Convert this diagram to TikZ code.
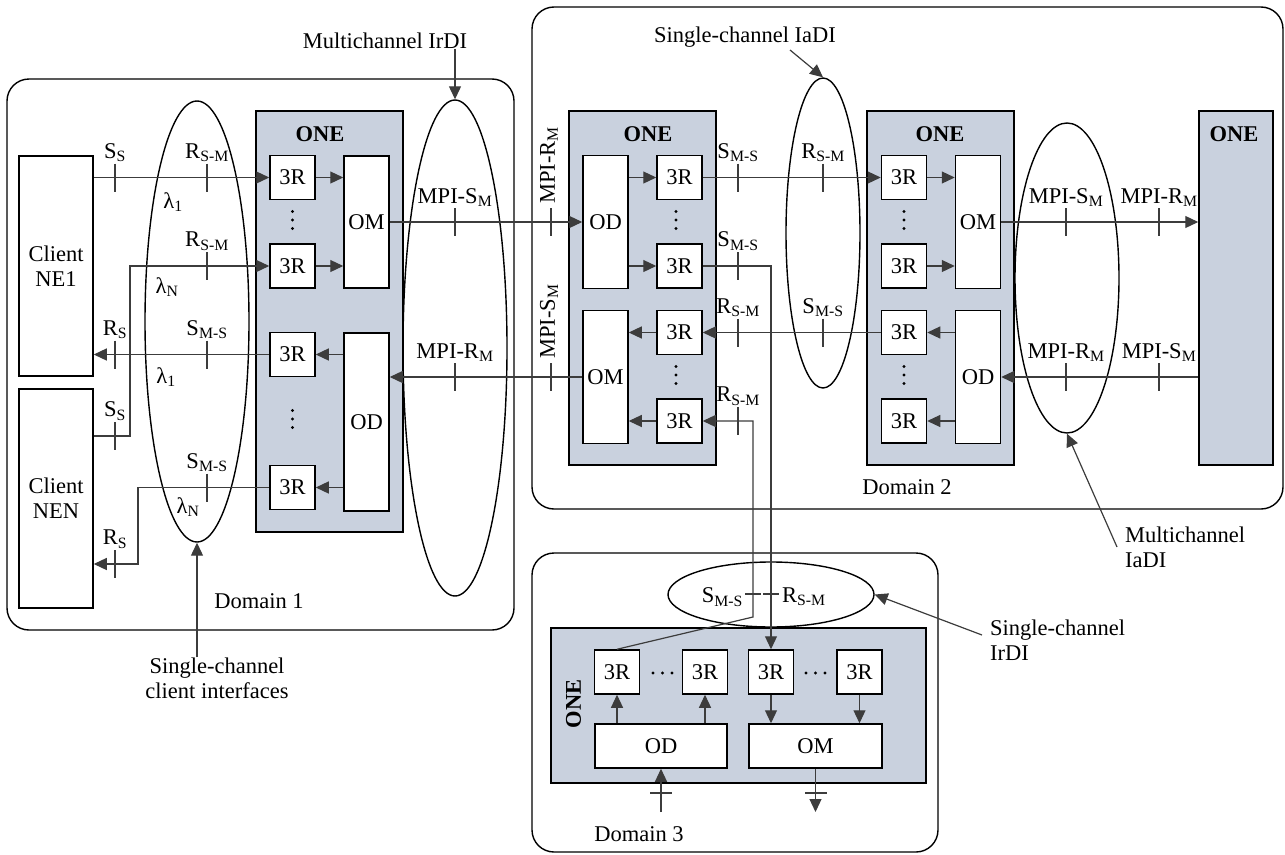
\documentclass[tikz,border=0pt]{standalone}
\usepackage{fontspec}
\setmainfont{Liberation Serif}
\usetikzlibrary{arrows.meta,shapes.geometric}

\definecolor{onefill}{RGB}{201,209,222}
\definecolor{wirecol}{RGB}{60,60,60}

\tikzset{
  onebox/.style={draw, fill=onefill, line width=1.5pt, inner sep=0pt},
  onelabel/.style={inner sep=0pt, font=\fontsize{22.5}{25}\selectfont\bfseries},
  blk/.style={draw, fill=white, line width=1.5pt, inner sep=0pt,
    minimum width=45pt, minimum height=44pt},
  tallblk/.style={blk, minimum height=133pt},
  wideblk/.style={blk, minimum width=133pt},
  domainbox/.style={draw, line width=1.4pt, rounded corners=22pt},
  iface/.style={draw, ellipse, line width=1.4pt, inner sep=0pt},
  wire/.style={draw=wirecol, line width=1.2pt},
  arr/.style={wire, -{Triangle[length=13pt,width=12pt]}},
  txt/.style={inner sep=0pt},
  reflabel/.style={inner sep=1.5pt, anchor=south},
}

% tick across a horizontal wire, its reference point name above
\newcommand{\refpoint}[4]{%
  \draw[wire] (#2,#3) ++(0,-14) -- ++(0,28);
  \node[reflabel] (#1) at (#2,{#3-14}) {#4};
}
% three dots in a column
\newcommand{\vdotsat}[2]{%
  \foreach \d in {-8.5,0,8.5} \fill (#1,{#2+\d}) circle (1.7pt);
}

\begin{document}
\begin{tikzpicture}[x=1pt, y=-1pt, font=\fontsize{22.5}{25}\selectfont]
\useasboundingbox (0,0) rectangle (1285,854);

% the three domains
\draw[domainbox] (7,79) rectangle (514,630);
\draw[domainbox] (532,7) rectangle (1283,509);
\draw[domainbox] (532,553) rectangle (938,852);

% client NEs
\node[blk, minimum width=74pt, minimum height=220pt, align=center] (ne1) at (56,266) {Client\\NE1};
\node[blk, minimum width=74pt, minimum height=219pt, align=center] (nen) at (56,498.5) {Client\\NEN};

% ONE boxes
\node[onebox, minimum width=147pt, minimum height=421pt] (one1) at (329.5,321.5) {};
\node[onebox, minimum width=147pt, minimum height=354pt] (one2) at (642.5,288) {};
\node[onebox, minimum width=147pt, minimum height=354pt] (one3) at (940.5,288) {};
\node[onebox, minimum width=74pt, minimum height=354pt] (one4) at (1236,288) {};
\node[onebox, minimum width=375pt, minimum height=155pt] (one5) at (738.5,705.5) {};
\node[onelabel] (n1) at (320,134.5) {ONE};
\node[onelabel] (n2) at (648,134.5) {ONE};
\node[onelabel] (n3) at (940,134.5) {ONE};
\node[onelabel] (n4) at (1234,134.5) {ONE};
\node[onelabel, rotate=90] (n5) at (573.5,704) {ONE};

% interfaces
\node[iface, minimum width=104pt, minimum height=441pt] (cli) at (197,321.5) {};
\node[iface, minimum width=104pt, minimum height=496pt] (irdi) at (455,348) {};
\node[iface, minimum width=74pt, minimum height=310pt] (iadi) at (823,233) {};
\node[iface, minimum width=104pt, minimum height=310pt] (miadi) at (1067,278) {};
\node[iface, minimum width=206pt, minimum height=65pt] (sirdi) at (771,594.5) {};

% domain 1
\node[blk] (r1a) at (292.5,177.5) {3R};
\node[blk] (r1b) at (292.5,266) {3R};
\node[blk] (r1c) at (292.5,354.5) {3R};
\node[blk] (r1d) at (292.5,487.5) {3R};
\node[tallblk, minimum height=132pt] (om1) at (366.5,222) {OM};
\node[tallblk, minimum height=178pt] (od1) at (366.5,422) {OD};
\vdotsat{292.5}{220}
\vdotsat{292.5}{419}

% domain 2
\node[tallblk] (od2) at (605.5,222) {OD};
\node[blk] (r2a) at (679.5,177.5) {3R};
\node[blk] (r2b) at (679.5,266) {3R};
\node[blk] (r2c) at (679.5,332.5) {3R};
\node[blk] (r2d) at (679.5,421) {3R};
\node[tallblk] (om2) at (605.5,377) {OM};
\vdotsat{676}{220}
\vdotsat{676}{375}

\node[blk] (r3a) at (904,177.5) {3R};
\node[blk] (r3b) at (904,266) {3R};
\node[blk] (r3c) at (904,332.5) {3R};
\node[blk] (r3d) at (904,421) {3R};
\node[tallblk] (om3) at (978,222) {OM};
\node[tallblk] (od3) at (978,377) {OD};
\vdotsat{904}{220}
\vdotsat{904}{375}

% domain 3
\node[blk] (r5a) at (617,672) {3R};
\node[blk] (r5b) at (705,672) {3R};
\node[blk] (r5c) at (771,672) {3R};
\node[blk] (r5d) at (859.5,672) {3R};
\node[wideblk, minimum width=132pt] (od5) at (661,746) {OD};
\node[wideblk] (om5) at (815.5,746) {OM};
\foreach \x in {653,662.5,672} \fill (\x,673) circle (1.7pt);
\foreach \x in {806,815.5,825} \fill (\x,673) circle (1.7pt);

% wires, domain 1
\coordinate (k1) at (130,436);
\coordinate (k2) at (138,564);
\draw[arr] (ne1.east |- r1a.west) -- (r1a.west);
\draw[arr] (nen.east |- k1) -- (k1) |- (r1b.west);
\draw[arr] (r1c.west) -- (ne1.east |- r1c.west);
\draw[arr] (r1d.west) -| (k2) -- (nen.east |- k2);
\draw[arr] (r1a.east) -- (om1.west |- r1a.east);
\draw[arr] (r1b.east) -- (om1.west |- r1b.east);
\draw[arr] (od1.west |- r1c.east) -- (r1c.east);
\draw[arr] (od1.west |- r1d.east) -- (r1d.east);

% wires between domains 1 and 2
\draw[arr] (om1.east) -- (od2.west);
\draw[arr] (om2.west) -- (od1.east |- om2.west);

% wires, domain 2
\draw[arr] (od2.east |- r2a.west) -- (r2a.west);
\draw[arr] (od2.east |- r2b.west) -- (r2b.west);
\draw[arr] (r2c.west) -- (om2.east |- r2c.west);
\draw[arr] (r2d.west) -- (om2.east |- r2d.west);
\draw[arr] (r2a.east) -- (r3a.west);
\draw[arr] (r3c.west) -- (r2c.east);
\draw[arr] (r3a.east) -- (om3.west |- r3a.east);
\draw[arr] (r3b.east) -- (om3.west |- r3b.east);
\draw[arr] (od3.west |- r3c.east) -- (r3c.east);
\draw[arr] (od3.west |- r3d.east) -- (r3d.east);
\draw[arr] (om3.east) -- (one4.west |- om3.east);
\draw[arr] (one4.west |- od3.east) -- (od3.east);

% wires to and from domain 3
\coordinate (k3) at (753,617);
\draw[arr] (r2b.east) -| (r5c.north);
\draw[arr] (r5a.north) -- (k3) |- (r2d.east);

% wires, domain 3
\coordinate (in5) at (661,812);
\draw[arr] (od5.north -| r5a.south) -- (r5a.south);
\draw[arr] (od5.north -| r5b.south) -- (r5b.south);
\draw[arr] (r5c.south) -- (om5.north -| r5c.south);
\draw[arr] (r5d.south) -- (om5.north -| r5d.south);
\draw[arr] (in5) -- (od5.south);
\draw[arr] (om5.south) -- (om5.south |- in5);
\draw[wire] (650,793) -- (672,793);
\draw[wire] (805,793) -- (827,793);

% reference points
\refpoint{ss1}{115}{177.5}{S\textsubscript{S}}
\refpoint{rsm1}{207}{177.5}{R\textsubscript{S-M}}
\refpoint{rsm2}{207}{266}{R\textsubscript{S-M}}
\refpoint{rs1}{115}{354.5}{R\textsubscript{S}}
\refpoint{sms1}{207}{354.5}{S\textsubscript{M-S}}
\refpoint{ss2}{115}{436}{S\textsubscript{S}}
\refpoint{sms2}{207}{487.5}{S\textsubscript{M-S}}
\refpoint{rs2}{115}{564}{R\textsubscript{S}}

\refpoint{mpis1}{455}{222}{MPI-S\textsubscript{M}}
\refpoint{mpir1}{455}{377}{MPI-R\textsubscript{M}}
\refpoint{sms3}{738}{177.5}{S\textsubscript{M-S}}
\refpoint{rsm3}{823}{177.5}{R\textsubscript{S-M}}
\refpoint{sms4}{738}{266}{S\textsubscript{M-S}}
\refpoint{rsm4}{738}{332.5}{R\textsubscript{S-M}}
\refpoint{sms5}{823}{332.5}{S\textsubscript{M-S}}
\refpoint{rsm5}{738}{421}{R\textsubscript{S-M}}
\refpoint{mpis2}{1066}{222}{MPI-S\textsubscript{M}}
\refpoint{mpir2}{1159}{222}{MPI-R\textsubscript{M}}
\refpoint{mpir3}{1066}{377}{MPI-R\textsubscript{M}}
\refpoint{mpis3}{1159}{377}{MPI-S\textsubscript{M}}

\draw[wire] (551,208) -- (551,236);
\node[txt, rotate=90, anchor=west] (mpir0) at (549,204) {MPI-R\textsubscript{M}};
\draw[wire] (551,363) -- (551,391);
\node[txt, rotate=90, anchor=west] (mpis0) at (549,359) {MPI-S\textsubscript{M}};

\draw[wire] (745,594) -- (761,594);
\draw[wire] (763,594) -- (779,594);
\node[txt, anchor=east] (sms6) at (743,597) {S\textsubscript{M-S}};
\node[txt, anchor=west] (rsm6) at (782,597) {R\textsubscript{S-M}};

% wavelengths
\node[txt] (lam1) at (173,202) {λ\textsubscript{1}};
\node[txt] (lam2) at (167,287) {λ\textsubscript{N}};
\node[txt] (lam3) at (166,377) {λ\textsubscript{1}};
\node[txt] (lam4) at (188,507) {λ\textsubscript{N}};

% domain names
\node[txt] (d1) at (259,601) {Domain 1};
\node[txt] (d2) at (907,487) {Domain 2};
\node[txt] (d3) at (639,834) {Domain 3};

% interface callouts
\node[txt] (lirdi) at (385,40.5) {Multichannel IrDI};
\draw[arr] (irdi.north |- lirdi.south) -- (irdi.north);

\node[txt] (liadi) at (745,37) {Single-channel IaDI};
\coordinate (a2) at (790,50);
\draw[arr] (a2) -- (iadi.north);

\node[txt, align=left, anchor=west] (lmiadi) at (1125,547) {Multichannel\\IaDI};
\draw[arr] ([xshift=-8pt]lmiadi.west) -- (miadi.south);

\node[txt, align=left, anchor=west] (lsirdi) at (990,640) {Single-channel\\IrDI};
\coordinate (a4) at (982,635);
\draw[arr] (a4) -- (sirdi.east);

\node[txt, align=center] (lcli) at (217,678) {Single-channel\\client interfaces};
\draw[arr] (cli.south |- lcli.north) -- (cli.south);

\end{tikzpicture}
\end{document}
